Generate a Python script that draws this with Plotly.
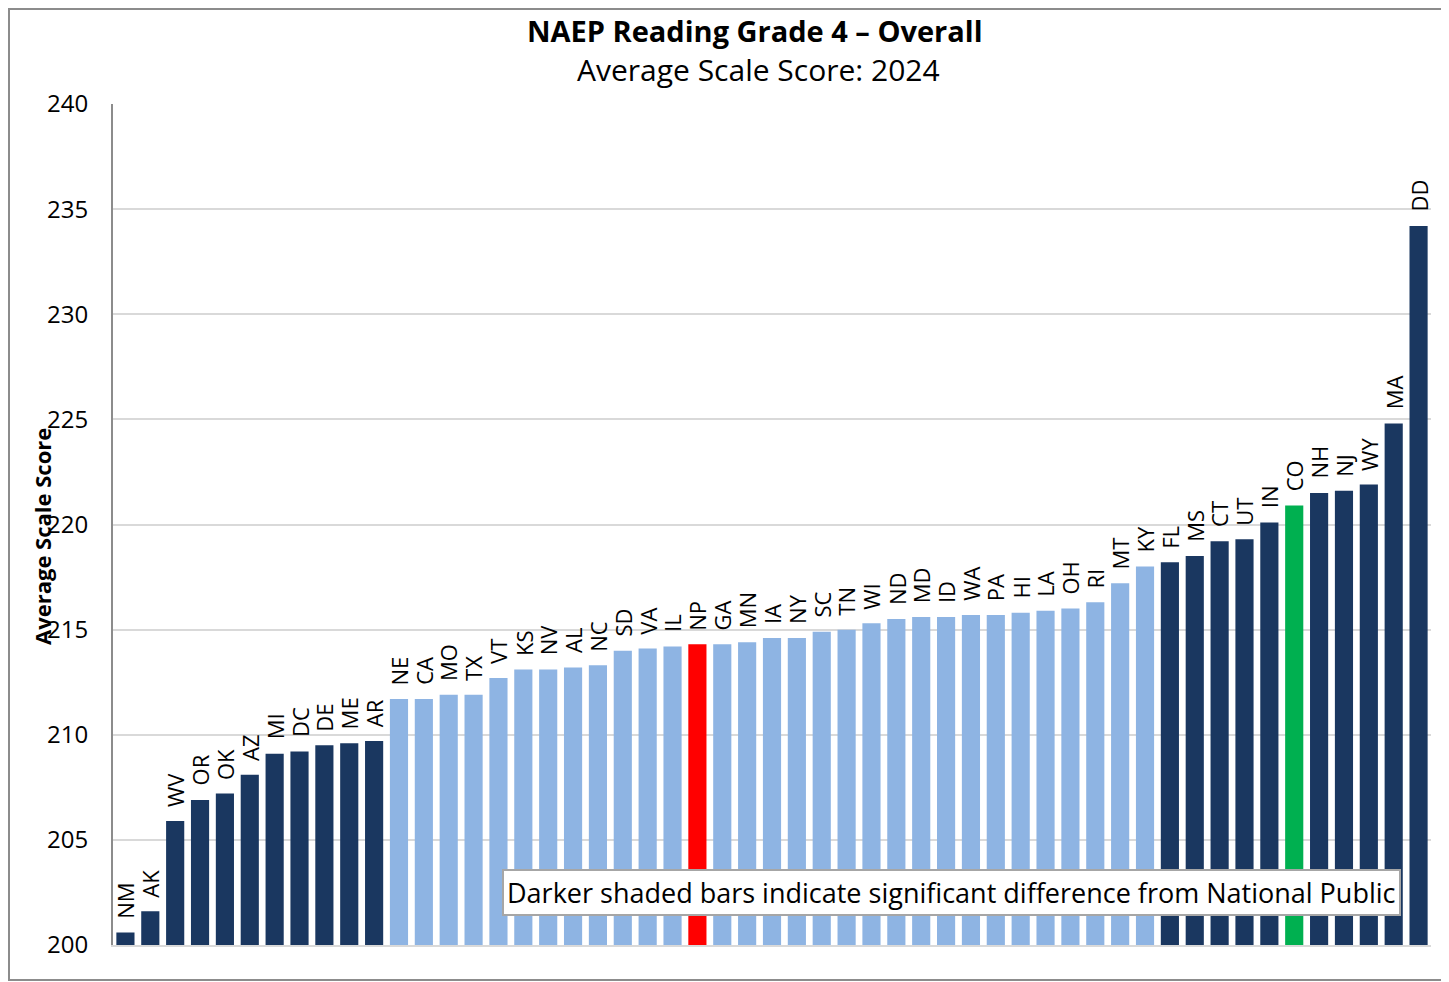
import plotly.graph_objects as go

states = ["NM", "AK", "WV", "OR", "OK", "AZ", "MI", "DC", "DE", "ME", "AR",
          "NE", "CA", "MO", "TX", "VT", "KS", "NV", "AL", "NC", "SD", "VA", "IL",
          "NP", "GA", "MN", "IA", "NY", "SC", "TN", "WI", "ND", "MD", "ID", "WA",
          "PA", "HI", "LA", "OH", "RI", "MT", "KY",
          "FL", "MS", "CT", "UT", "IN", "CO", "NH", "NJ", "WY", "MA", "DD"]
scores = [200.6, 201.6, 205.9, 206.9, 207.2, 208.1, 209.1, 209.2, 209.5, 209.6, 209.7,
          211.7, 211.7, 211.9, 211.9, 212.7, 213.1, 213.1, 213.2, 213.3, 214.0, 214.1, 214.2,
          214.3, 214.3, 214.4, 214.6, 214.6, 214.9, 215.0, 215.3, 215.5, 215.6, 215.6, 215.7,
          215.7, 215.8, 215.9, 216.0, 216.3, 217.2, 218.0,
          218.2, 218.5, 219.2, 219.3, 220.1, 220.9, 221.5, 221.6, 221.9, 224.8, 234.2]
# significance group relative to National Public
groups = (["sig"] * 11 + ["ns"] * 12 + ["np"] + ["ns"] * 18 +
          ["sig"] * 5 + ["co"] + ["sig"] * 5)
y_ticks = [200, 205, 210, 215, 220, 225, 230, 235, 240]

title_text = "<b>NAEP Reading Grade 4 – Overall</b>"
subtitle_text = "Average Scale Score: 2024"
y_title = "Average Scale Score"
note_text = "Darker shaded bars indicate significant difference from National Public"

palette = {"sig": "#1A3760", "ns": "#8EB4E3", "np": "#FF0000", "co": "#00B050"}
colors = [palette[g] for g in groups]

FONT = "Open Sans"

# page has an 8px body margin; figure is laid out in page coordinates below
OFF = 8
W, H = 1449 - OFF, 982 - OFF
PL, PR, PT, PB = 113, 1431, 104, 945          # plot area in page pixels
L, T = PL - OFF, PT - OFF
R, B = (1449 - PR), (982 - PB)
pw, ph = PR - PL, PB - PT


def fx(xp):
    return (xp - PL) / pw


def fy(yp):
    return (PB - yp) / ph


fig = go.Figure()
fig.add_trace(go.Bar(
    x=states, y=scores, marker=dict(color=colors, line=dict(width=0)),
    hoverinfo="x+y", showlegend=False,
))

annotations = []
for s, v in zip(states, scores):
    annotations.append(dict(
        x=s, y=v, xref="x", yref="y", text=s, showarrow=False,
        textangle=-90, xanchor="center", yanchor="bottom", yshift=12,
        font=dict(family=FONT, size=22, color="#000000"),
    ))

annotations.append(dict(x=fx(755), y=fy(31), xref="paper", yref="paper",
                        text=title_text, showarrow=False, xanchor="center", yanchor="middle",
                        font=dict(family=FONT, size=29, color="#000000")))
annotations.append(dict(x=fx(758), y=fy(70), xref="paper", yref="paper",
                        text=subtitle_text, showarrow=False, xanchor="center", yanchor="middle",
                        font=dict(family=FONT, size=30, color="#000000")))
annotations.append(dict(x=fx(42), y=fy(537), xref="paper", yref="paper",
                        text="<b>" + y_title + "</b>", showarrow=False, textangle=-90,
                        xanchor="center", yanchor="middle",
                        font=dict(family=FONT, size=22, color="#000000")))
annotations.append(dict(x=fx(951), y=fy(892.5), xref="paper", yref="paper",
                        text=note_text, showarrow=False, xanchor="center", yanchor="middle",
                        bgcolor="#FFFFFF", bordercolor="#A6A6A6", borderwidth=2, borderpad=3,
                        font=dict(family=FONT, size=27, color="#000000")))

shapes = [
    dict(type="rect", xref="paper", yref="paper",
         x0=fx(OFF + 1), x1=fx(1446), y0=fy(980), y1=fy(OFF + 1),
         line=dict(color="#8C8C8C", width=2), fillcolor="rgba(0,0,0,0)", layer="below"),
]

fig.update_layout(
    width=W, height=H,
    margin=dict(l=L, r=R, t=T, b=B, pad=0),
    paper_bgcolor="#FFFFFF", plot_bgcolor="#FFFFFF",
    bargap=0.27,
    font=dict(family=FONT, color="#000000"),
    annotations=annotations,
    shapes=shapes,
    xaxis=dict(type="category", range=[-0.5, len(states) - 0.5], showticklabels=False,
               showgrid=False, zeroline=False, showline=True, linecolor="#D9D9D9",
               linewidth=2, ticks="", fixedrange=True),
    yaxis=dict(range=[200, 240], tickvals=y_ticks, ticktext=[str(t) for t in y_ticks],
               showgrid=True, gridcolor="#D9D9D9", gridwidth=2, zeroline=False,
               showline=True, linecolor="#8C8C8C", linewidth=2, ticks="",
               ticklabelstandoff=18, tickfont=dict(family=FONT, size=24, color="#000000"),
               fixedrange=True),
)

fig.write_html("out.html")
